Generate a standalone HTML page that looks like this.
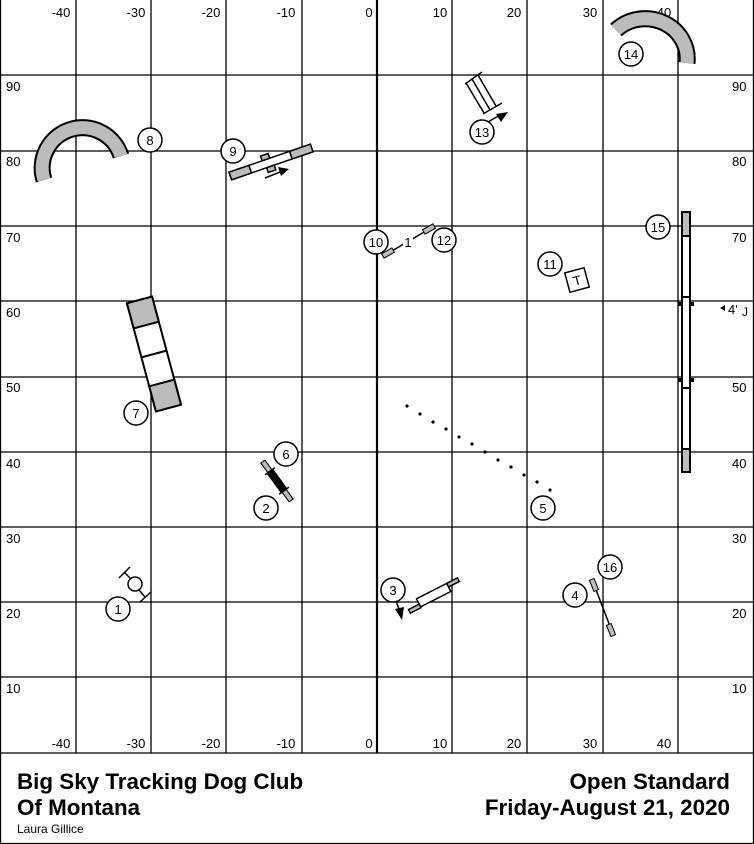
<!DOCTYPE html>
<html><head><meta charset="utf-8"><style>
html,body{margin:0;padding:0;background:#fff}
svg{display:block}
text{font-family:"Liberation Sans",Arial,sans-serif}
</style></head><body>
<svg width="754" height="844" viewBox="0 0 754 844" xmlns="http://www.w3.org/2000/svg">
<rect width="754" height="844" fill="#fff"/>
<g stroke="#000" stroke-width="1.3">
<line x1="0.5" y1="0" x2="0.5" y2="753"/><line x1="76" y1="0" x2="76" y2="753"/><line x1="151" y1="0" x2="151" y2="753"/><line x1="226" y1="0" x2="226" y2="753"/><line x1="302" y1="0" x2="302" y2="753"/><line x1="377" y1="0" x2="377" y2="753" stroke-width="2.2"/><line x1="452" y1="0" x2="452" y2="753"/><line x1="527" y1="0" x2="527" y2="753"/><line x1="603" y1="0" x2="603" y2="753"/><line x1="678" y1="0" x2="678" y2="753"/><line x1="753.5" y1="0" x2="753.5" y2="844"/>
<line x1="0" y1="75" x2="754" y2="75"/><line x1="0" y1="151" x2="754" y2="151"/><line x1="0" y1="226" x2="754" y2="226"/><line x1="0" y1="301" x2="754" y2="301"/><line x1="0" y1="377" x2="754" y2="377"/><line x1="0" y1="452" x2="754" y2="452"/><line x1="0" y1="527" x2="754" y2="527"/><line x1="0" y1="602" x2="754" y2="602"/><line x1="0" y1="677" x2="754" y2="677"/><line x1="0" y1="753" x2="754" y2="753"/>
<line x1="0.5" y1="753" x2="0.5" y2="844"/><line x1="0" y1="843.5" x2="754" y2="843.5"/>
</g>
<g font-size="13" fill="#000" text-anchor="middle">
<text x="61" y="17">-40</text><text x="136" y="17">-30</text><text x="211" y="17">-20</text><text x="286" y="17">-10</text><text x="369" y="17">0</text><text x="440" y="17">10</text><text x="514" y="17">20</text><text x="590" y="17">30</text><text x="664" y="17">40</text>
<text x="61" y="748">-40</text><text x="136" y="748">-30</text><text x="211" y="748">-20</text><text x="286" y="748">-10</text><text x="369" y="748">0</text><text x="440" y="748">10</text><text x="514" y="748">20</text><text x="590" y="748">30</text><text x="664" y="748">40</text>
</g>
<g font-size="13" fill="#000">
<text x="6" y="91">90</text><text x="6" y="166">80</text><text x="6" y="242">70</text><text x="6" y="317">60</text><text x="6" y="392">50</text><text x="6" y="468">40</text><text x="6" y="543">30</text><text x="6" y="618">20</text><text x="6" y="693">10</text>
<text x="732" y="91">90</text><text x="732" y="166">80</text><text x="732" y="242">70</text><text x="732" y="392">50</text><text x="732" y="468">40</text><text x="732" y="543">30</text><text x="732" y="618">20</text><text x="732" y="693">10</text>
</g>
<path d="M44,180 A39,39 0 1 1 121,156" fill="none" stroke="#000" stroke-width="17"/>
<path d="M44,180 A39,39 0 1 1 121,156" fill="none" stroke="#bbb" stroke-width="13"/>
<path d="M616,30 A42,40 0 0 1 687,63" fill="none" stroke="#000" stroke-width="17"/>
<path d="M616,30 A42,40 0 0 1 687,63" fill="none" stroke="#bbb" stroke-width="13"/>
<g stroke="#000" stroke-width="2">
<rect x="682" y="212" width="8" height="260" fill="#fff"/>
<rect x="682" y="212" width="8" height="24" fill="#bbb"/>
<rect x="682" y="449" width="8" height="23" fill="#bbb"/>
<line x1="682" y1="297" x2="690" y2="297"/><line x1="682" y1="388" x2="690" y2="388"/>
</g>
<rect x="678" y="302" width="4" height="4"/><rect x="690" y="302" width="4" height="4"/>
<rect x="678" y="378" width="4" height="4"/><rect x="690" y="378" width="4" height="4"/>
<path d="M720,308 L725,305 L725,311 Z"/>
<text x="728" y="314" font-size="13">4'</text><text x="742" y="316" font-size="12">J</text>
<g transform="translate(154,354) rotate(-15)" stroke="#000" stroke-width="2">
<rect x="-13" y="-56" width="26" height="112" fill="#fff"/>
<rect x="-13" y="-56" width="26" height="26" fill="#bbb"/>
<rect x="-13" y="30" width="26" height="26" fill="#bbb"/>
<line x1="-13" y1="0" x2="13" y2="0"/>
</g>
<g transform="translate(271,162) rotate(-19)" stroke="#000" stroke-width="1.5">
<rect x="-43" y="-4" width="86" height="8" fill="#fff"/>
<rect x="-43" y="-4" width="21" height="8" fill="#bbb"/>
<rect x="21" y="-4" width="22" height="8" fill="#bbb"/>
<rect x="-8" y="-9" width="8" height="5" fill="#bbb"/>
<rect x="-6" y="4" width="8" height="5" fill="#bbb"/>
</g>
<line x1="265" y1="178" x2="280" y2="172" stroke="#000" stroke-width="1.5"/><path d="M289,169 L278,167 L281,176 Z"/>
<g stroke="#000" stroke-width="1.5">
<line x1="466" y1="83" x2="484" y2="113"/><line x1="472" y1="79" x2="490" y2="110"/><line x1="478" y1="75" x2="496" y2="106"/>
<line x1="465" y1="84" x2="482" y2="72"/><line x1="483" y1="114" x2="502" y2="103"/>
<line x1="488" y1="122" x2="500" y2="115"/>
</g>
<path d="M508,112 L496,114 L501,122 Z"/>
<line x1="385" y1="255" x2="431" y2="228" stroke="#000" stroke-width="1.5"/>
<rect x="-6" y="-2.5" width="12" height="5" fill="#bbb" stroke="#000" transform="translate(388,253) rotate(-30)"/>
<rect x="-6" y="-2.5" width="12" height="5" fill="#bbb" stroke="#000" transform="translate(429,229) rotate(-30)"/>
<rect x="403" y="236" width="10" height="12" fill="#fff"/>
<text x="408" y="247" font-size="13" text-anchor="middle">1</text>
<g transform="translate(577,280) rotate(-15)"><rect x="-10" y="-10" width="20" height="20" fill="#fff" stroke="#000" stroke-width="1.5"/><text x="0" y="5" font-size="13" text-anchor="middle">T</text></g>
<g fill="#000">
<circle cx="407" cy="406" r="1.6"/><circle cx="420" cy="414" r="1.6"/><circle cx="433" cy="422" r="1.6"/><circle cx="446" cy="429" r="1.6"/><circle cx="459" cy="437" r="1.6"/><circle cx="472" cy="444" r="1.6"/><circle cx="485" cy="452" r="1.6"/><circle cx="498" cy="460" r="1.6"/><circle cx="511" cy="467" r="1.6"/><circle cx="524" cy="475" r="1.6"/><circle cx="537" cy="482" r="1.6"/><circle cx="550" cy="490" r="1.6"/>
</g>
<g transform="translate(277,481) rotate(-36)" stroke="#000">
<rect x="-2.5" y="-24" width="5" height="48" fill="#bbb" stroke-width="1"/>
<rect x="-3.5" y="-12" width="7" height="24" fill="#000"/>
<line x1="-6" y1="-12" x2="6" y2="-12" stroke-width="1.5"/><line x1="-6" y1="12" x2="6" y2="12" stroke-width="1.5"/>
</g>
<g stroke="#000" stroke-width="1.5" fill="#fff">
<circle cx="135" cy="584" r="7"/>
<line x1="131" y1="579" x2="124" y2="572"/><line x1="119" y1="578" x2="130" y2="567"/>
<line x1="139" y1="590" x2="145" y2="597"/><line x1="140" y1="602" x2="151" y2="592"/>
</g>
<g transform="translate(433,596) rotate(-27)" stroke="#000" stroke-width="1.5">
<rect x="-16" y="-5" width="34" height="9" fill="#fff"/>
<rect x="-28" y="1" width="12" height="4" fill="#bbb"/>
<rect x="18" y="-5" width="12" height="4" fill="#bbb"/>
</g>
<line x1="395" y1="598" x2="400" y2="612" stroke="#000" stroke-width="1.5"/><path d="M402,620 L395,609 L404,607 Z"/>
<line x1="593" y1="582" x2="613" y2="634" stroke="#000" stroke-width="1.5"/>
<rect x="-2.5" y="-6" width="5" height="12" fill="#bbb" stroke="#000" transform="translate(594,585) rotate(-22)"/>
<rect x="-2.5" y="-6" width="5" height="12" fill="#bbb" stroke="#000" transform="translate(611,630) rotate(-22)"/>
<g stroke="#000" stroke-width="1.5" fill="#fff">
<circle cx="118" cy="609" r="12"/><circle cx="266" cy="508" r="12"/><circle cx="393" cy="590" r="12"/><circle cx="575" cy="595" r="12"/><circle cx="543" cy="508" r="12"/><circle cx="286" cy="454" r="12"/><circle cx="136" cy="413" r="12"/><circle cx="150" cy="140" r="12"/><circle cx="233" cy="151" r="12"/><circle cx="376" cy="242" r="12"/><circle cx="550" cy="264" r="12"/><circle cx="444" cy="240" r="12"/><circle cx="482" cy="132" r="12"/><circle cx="631" cy="54" r="12"/><circle cx="658" cy="227" r="12"/><circle cx="610" cy="567" r="12"/>
</g>
<g font-size="13" text-anchor="middle" fill="#000">
<text x="118" y="614">1</text><text x="266" y="513">2</text><text x="393" y="595">3</text><text x="575" y="600">4</text><text x="543" y="513">5</text><text x="286" y="459">6</text><text x="136" y="418">7</text><text x="150" y="145">8</text><text x="233" y="156">9</text><text x="376" y="247">10</text><text x="550" y="269">11</text><text x="444" y="245">12</text><text x="482" y="137">13</text><text x="631" y="59">14</text><text x="658" y="232">15</text><text x="610" y="572">16</text>
</g>
<g font-weight="bold" font-size="22.4" fill="#000">
<text x="17" y="789">Big Sky Tracking Dog Club</text>
<text x="17" y="815">Of Montana</text>
<text x="730" y="789" text-anchor="end">Open Standard</text>
<text x="730" y="815" text-anchor="end">Friday-August 21, 2020</text>
</g>
<text x="17" y="833" font-size="12">Laura Gillice</text>
</svg>
</body></html>
